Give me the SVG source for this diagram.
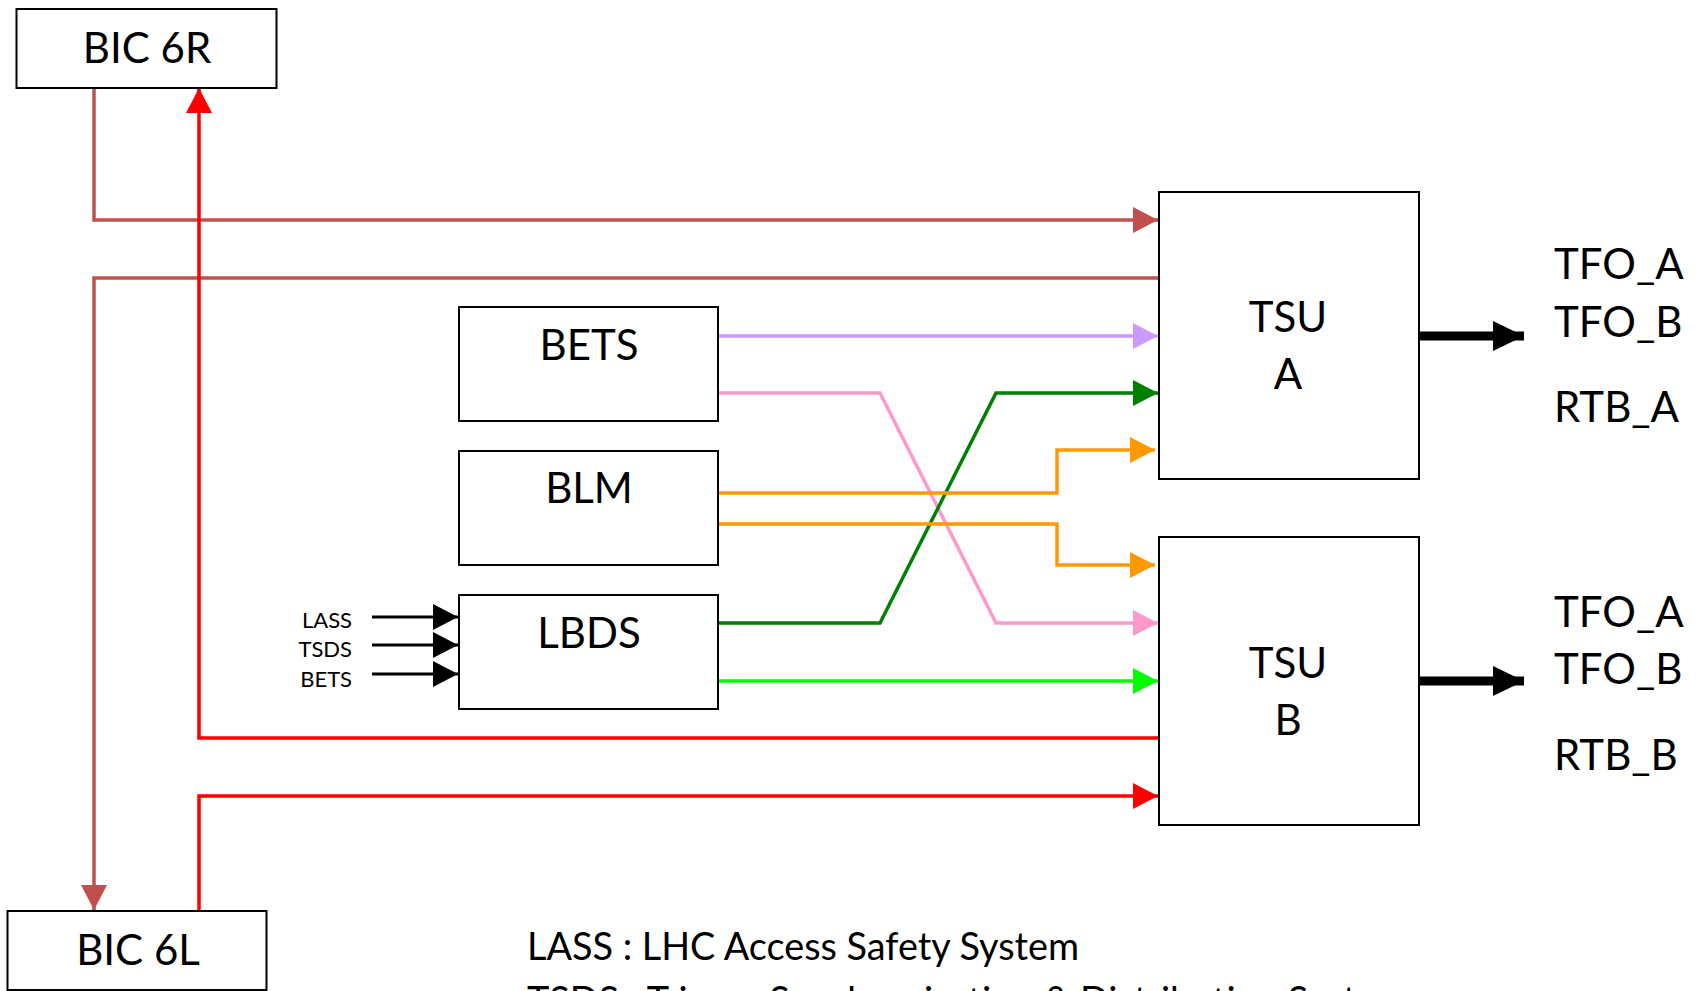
<svg xmlns="http://www.w3.org/2000/svg" width="1700" height="991" viewBox="0 0 1700 991">
<style>
.box{fill:#fff;stroke:#000;stroke-width:2}
.t{font-family:Lato,"Open Sans","Liberation Sans",sans-serif;fill:#000}
.lbl{font-size:42px;text-anchor:middle}
.out{font-size:42px}
.sm{font-size:22px;text-anchor:end}
.leg{font-size:37.8px}
.c{fill:none;stroke-width:3.5}
.thin{stroke-width:3}
.big{stroke-width:9}
</style>
<defs>
<marker id="aBrown" markerUnits="userSpaceOnUse" markerWidth="26" markerHeight="26" refX="25" refY="13" orient="auto"><path d="M0,0 L25,13 L0,26 Z" fill="#C0504D"/></marker>
<marker id="aRed" markerUnits="userSpaceOnUse" markerWidth="26" markerHeight="26" refX="25" refY="13" orient="auto"><path d="M0,0 L25,13 L0,26 Z" fill="#FF0000"/></marker>
<marker id="aPurple" markerUnits="userSpaceOnUse" markerWidth="26" markerHeight="26" refX="25" refY="13" orient="auto"><path d="M0,0 L25,13 L0,26 Z" fill="#CC99FF"/></marker>
<marker id="aPink" markerUnits="userSpaceOnUse" markerWidth="26" markerHeight="26" refX="25" refY="13" orient="auto"><path d="M0,0 L25,13 L0,26 Z" fill="#FF99CC"/></marker>
<marker id="aGreen" markerUnits="userSpaceOnUse" markerWidth="26" markerHeight="26" refX="25" refY="13" orient="auto"><path d="M0,0 L25,13 L0,26 Z" fill="#008000"/></marker>
<marker id="aOrange" markerUnits="userSpaceOnUse" markerWidth="26" markerHeight="26" refX="25" refY="13" orient="auto"><path d="M0,0 L25,13 L0,26 Z" fill="#FF9900"/></marker>
<marker id="aLime" markerUnits="userSpaceOnUse" markerWidth="26" markerHeight="26" refX="25" refY="13" orient="auto"><path d="M0,0 L25,13 L0,26 Z" fill="#00FF00"/></marker>
<marker id="aBlack" markerUnits="userSpaceOnUse" markerWidth="26" markerHeight="26" refX="25" refY="13" orient="auto"><path d="M0,0 L25,13 L0,26 Z" fill="#000"/></marker>
<marker id="aBig" markerUnits="userSpaceOnUse" markerWidth="32" markerHeight="30" refX="31" refY="15" orient="auto"><path d="M0,0 L31,15 L0,30 Z" fill="#000"/></marker>
</defs>

<g id="connectors">
<path class="c" stroke="#C0504D" d="M94,88 V220 H1158" marker-end="url(#aBrown)"/>
<path class="c" stroke="#C0504D" d="M1158,278 H94 V910" marker-end="url(#aBrown)"/>
<path class="c" stroke="#FF0000" d="M1158,738 H199 V88" marker-end="url(#aRed)"/>
<path class="c" stroke="#FF0000" d="M199,910 V796 H1158" marker-end="url(#aRed)"/>
<path class="c" stroke="#CC99FF" d="M718,336 H1158" marker-end="url(#aPurple)"/>
<path class="c" stroke="#FF99CC" d="M718,393 H880 L996,623 H1158" marker-end="url(#aPink)"/>
<path class="c" stroke="#008000" d="M718,623 H880 L996,393 H1158" marker-end="url(#aGreen)"/>
<path class="c" stroke="#FF9900" d="M718,493 H1057 V450 H1155" marker-end="url(#aOrange)"/>
<path class="c" stroke="#FF9900" d="M718,524 H1057 V565 H1155" marker-end="url(#aOrange)"/>
<path class="c" stroke="#00FF00" d="M718,681 H1158" marker-end="url(#aLime)"/>
<path class="c thin" stroke="#000" d="M372,617 H458" marker-end="url(#aBlack)"/>
<path class="c thin" stroke="#000" d="M372,645 H458" marker-end="url(#aBlack)"/>
<path class="c thin" stroke="#000" d="M372,674 H458" marker-end="url(#aBlack)"/>
<path class="c big" stroke="#000" d="M1419,336 H1524" marker-end="url(#aBig)"/>
<path class="c big" stroke="#000" d="M1419,681 H1524" marker-end="url(#aBig)"/>
</g>

<g id="bic6r">
<rect class="box" x="16.5" y="9" width="260" height="79"/>
<text class="t lbl" x="147" y="63">BIC 6R</text>
</g>
<g id="bic6l">
<rect class="box" x="7.5" y="911" width="259" height="79"/>
<text class="t lbl" x="138" y="965">BIC 6L</text>
</g>
<g id="bets">
<rect class="box" x="459" y="307" width="259" height="114"/>
<text class="t lbl" x="589" y="360">BETS</text>
</g>
<g id="blm">
<rect class="box" x="459" y="451" width="259" height="114"/>
<text class="t lbl" x="589" y="503">BLM</text>
</g>
<g id="lbds">
<rect class="box" x="459" y="595" width="259" height="114"/>
<text class="t lbl" x="589" y="648">LBDS</text>
</g>
<g id="tsua">
<rect class="box" x="1159" y="192" width="260" height="287"/>
<text class="t lbl" x="1288" y="332">TSU</text>
<text class="t lbl" x="1288" y="389">A</text>
</g>
<g id="tsub">
<rect class="box" x="1159" y="537" width="260" height="288"/>
<text class="t lbl" x="1288" y="678">TSU</text>
<text class="t lbl" x="1288" y="735">B</text>
</g>

<g id="inputs">
<text class="t sm" x="352" y="628">LASS</text>
<text class="t sm" x="352" y="657">TSDS</text>
<text class="t sm" x="352" y="687">BETS</text>
</g>
<g id="outputsA">
<text class="t out" x="1554" y="279">TFO_A</text>
<text class="t out" x="1554" y="337">TFO_B</text>
<text class="t out" x="1554" y="422">RTB_A</text>
</g>
<g id="outputsB">
<text class="t out" x="1554" y="627">TFO_A</text>
<text class="t out" x="1554" y="684">TFO_B</text>
<text class="t out" x="1554" y="770">RTB_B</text>
</g>
<g id="legend">
<text class="t leg" x="527" y="960">LASS : LHC Access Safety System</text>
<text class="t leg" x="527" y="1014">TSDS : Trigger Synchronisation &amp; Distribution System</text>
</g>
</svg>
